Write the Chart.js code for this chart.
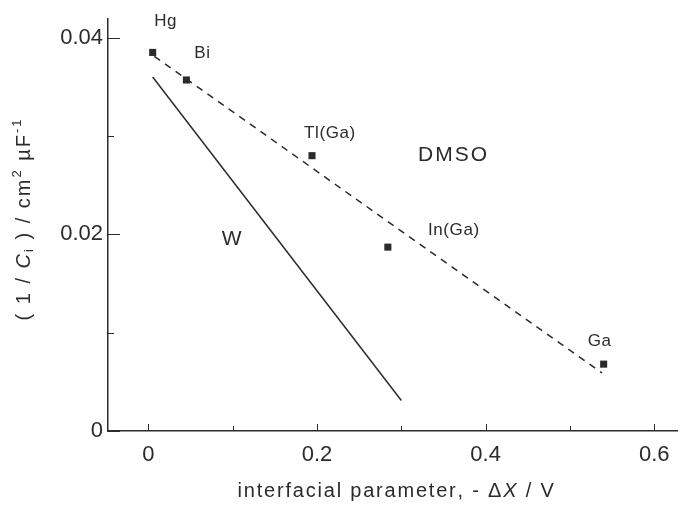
<!DOCTYPE html>
<html>
<head>
<meta charset="utf-8">
<script src="https://cdn.jsdelivr.net/npm/chart.js@4"></script>
<style>
  html, body { margin: 0; padding: 0; background: #fff; }
  #wrap { width: 682px; height: 506px; }
</style>
</head>
<body>
<div id="wrap"><canvas id="cap"></canvas></div>
<script>
// measured points (DMSO)
var metals = ['Hg', 'Bi', 'Tl(Ga)', 'In(Ga)', 'Ga'];
var deltaX = [0.005, 0.045, 0.194, 0.284, 0.540];
var invC = [0.0385, 0.0357, 0.0280, 0.0187, 0.0068];

// fitted lines
var dmsoLineX = [0.007, 0.538];
var dmsoLineY = [0.0381, 0.0059];
var waterLineX = [0.005, 0.300];
var waterLineY = [0.0360, 0.0031];

// axis ticks
var xTicks = [0, 0.1, 0.2, 0.3, 0.4, 0.5, 0.6];
var xTickLabels = ['0', '', '0.2', '', '0.4', '', '0.6'];
var yTicks = [0, 0.01, 0.02, 0.03, 0.04];
var yTickLabels = ['0', '', '0.02', '', '0.04'];

// solvent labels
var solventNames = ['DMSO', 'W'];
var solventX = [0.362, 0.1];
var solventY = [0.0280, 0.0195];

var ink = '#2b2b2b';
var face = '"Liberation Sans", Arial, sans-serif';
// pixel offsets of metal labels from their points
var labelOffsets = [[13, -31], [16, -27], [18, -22], [66, -17], [-4, -23]];

function pts(xs, ys) {
  return xs.map(function (x, i) { return { x: x, y: ys[i] }; });
}

function drawParts(c, parts, x0, y, spacing) {
  var total = 0;
  parts.forEach(function (p) { c.font = p[1]; total += c.measureText(p[0]).width + p[0].length * spacing; });
  var x = x0 - total / 2;
  parts.forEach(function (p) {
    c.font = p[1];
    for (var k = 0; k < p[0].length; k++) {
      var ch = p[0][k];
      c.fillText(ch, x, y + (p[2] || 0));
      x += c.measureText(ch).width + spacing;
    }
  });
}

var annotate = {
  id: 'annotate',
  afterDraw: function (chart) {
    var c = chart.ctx, xs = chart.scales.x, ys = chart.scales.y;
    var area = chart.chartArea;
    c.save();
    c.fillStyle = ink;
    c.strokeStyle = ink;
    c.lineWidth = 1;

    // inward tick marks
    xTicks.forEach(function (v, i) {
      var px = Math.round(xs.getPixelForValue(v)) + 0.5;
      var len = xTickLabels[i] ? 7 : 5;
      c.beginPath(); c.moveTo(px, area.bottom); c.lineTo(px, area.bottom - len); c.stroke();
    });
    yTicks.forEach(function (v, i) {
      var py = Math.round(ys.getPixelForValue(v)) + 0.5;
      var len = yTickLabels[i] ? 12 : 6;
      c.beginPath(); c.moveTo(area.left, py); c.lineTo(area.left + len, py); c.stroke();
    });

    c.textAlign = 'left';
    c.textBaseline = 'middle';

    // metal labels
    metals.forEach(function (m, i) {
      var px = xs.getPixelForValue(deltaX[i]) + labelOffsets[i][0];
      var py = ys.getPixelForValue(invC[i]) + labelOffsets[i][1];
      drawParts(c, [[m, '17px ' + face]], px, py, 0.6);
    });

    // solvent labels
    solventNames.forEach(function (s, i) {
      drawParts(c, [[s, '21px ' + face]], xs.getPixelForValue(solventX[i]), ys.getPixelForValue(solventY[i]), 2);
    });

    // x axis title with italic X
    var font = '20px ' + face;
    var ifont = 'italic 20px ' + face;
    var small = '13px ' + face;
    drawParts(c, [['interfacial parameter, - \u0394', font], ['X', ifont], [' / V', font]], 396, 491, 1.8);

    // y axis title, rotated
    c.translate(24, 219);
    c.rotate(-Math.PI / 2);
    drawParts(c, [
      ['( 1 / ', font], ['C', ifont], ['i', small, 5], [' ) / cm', font],
      ['2', small, -7], [' \u00b5F', font], ['-1', small, -7]
    ], 0, 0, 2);
    c.restore();
  }
};

var tickFont = { family: face, size: 22 };

new Chart(document.getElementById('cap'), {
  type: 'scatter',
  data: {
    datasets: [{
      label: 'DMSO',
      data: pts(deltaX, invC),
      pointStyle: 'rect',
      pointRadius: 5,
      backgroundColor: ink,
      borderColor: ink,
      borderWidth: 0
    }, {
      label: 'DMSO fit',
      data: pts(dmsoLineX, dmsoLineY),
      showLine: true,
      pointRadius: 0,
      borderColor: ink,
      borderWidth: 1.5,
      borderDash: [7, 6]
    }, {
      label: 'W',
      data: pts(waterLineX, waterLineY),
      showLine: true,
      pointRadius: 0,
      borderColor: ink,
      borderWidth: 1.5
    }]
  },
  options: {
    responsive: true,
    maintainAspectRatio: false,
    animation: false,
    layout: { padding: { top: 19, right: 0, left: 0, bottom: 0 } },
    plugins: { legend: { display: false }, tooltip: { enabled: false } },
    scales: {
      x: {
        type: 'linear',
        min: -0.048,
        max: 0.627,
        afterFit: function (s) { s.height = 75; },
        // blank tick at the axis end, so no label sticks out on the right
        afterBuildTicks: function (s) {
          s.ticks = xTicks.map(function (v) { return { value: v }; }).concat([{ value: s.max }]);
        },
        grid: { drawOnChartArea: false, drawTicks: false },
        border: { display: true, color: ink, width: 1.5 },
        ticks: {
          color: ink,
          // tick padding also pads the right edge, so push labels down with lineHeight instead
          font: { family: face, size: 22, lineHeight: 2.2 },
          padding: 0, maxRotation: 0, autoSkip: false,
          callback: function (v, i) { return xTickLabels[i] || ''; }
        }
      },
      y: {
        type: 'linear',
        min: 0,
        max: 0.0419,
        afterFit: function (s) { s.width = 108; },
        afterBuildTicks: function (s) { s.ticks = yTicks.map(function (v) { return { value: v }; }); },
        grid: { drawOnChartArea: false, drawTicks: false },
        border: { display: true, color: ink, width: 1.5 },
        ticks: {
          color: ink, font: tickFont, padding: 5, autoSkip: false,
          callback: function (v, i) { return yTickLabels[i]; }
        }
      }
    }
  },
  plugins: [annotate]
});
</script>
</body>
</html>
